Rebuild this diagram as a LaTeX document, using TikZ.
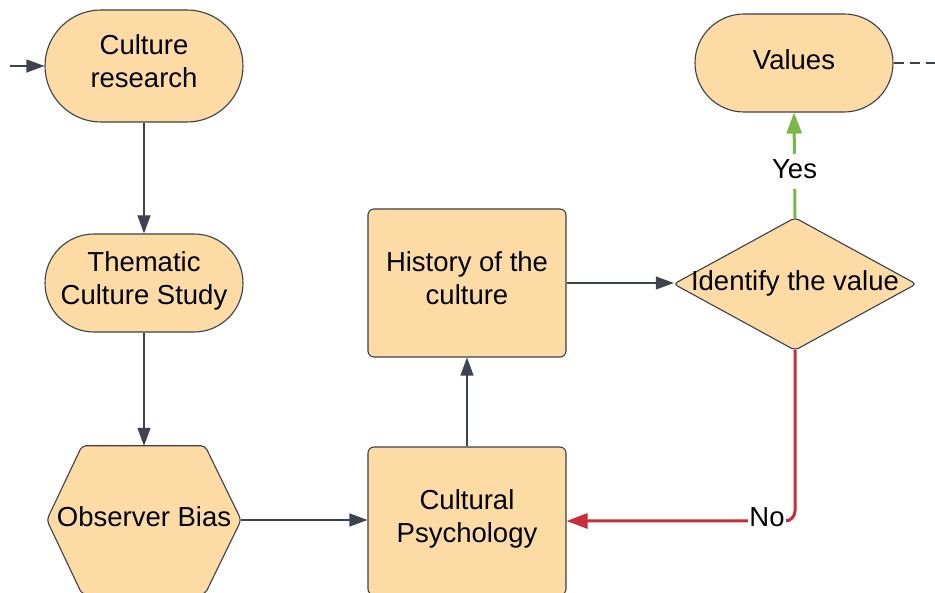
\documentclass[tikz,border=0pt]{standalone}
\usepackage{fontspec}
\setmainfont{Liberation Sans}
\usetikzlibrary{arrows.meta,shapes.misc,calc,backgrounds}
\definecolor{boxfill}{HTML}{FDDBA4}
\definecolor{boxline}{HTML}{3A414A}
\definecolor{linkgray}{HTML}{3D4450}
\definecolor{nored}{HTML}{C92D39}
\definecolor{yesgreen}{HTML}{7AB648}
\tikzset{
  x=1pt, y=-1pt,
  every node/.style={font=\fontsize{27.5}{33}\selectfont, align=center, inner sep=0pt,
    execute at begin node=\strut, execute at end node=\strut},
  terminal/.style={rounded rectangle, draw=boxline, fill=boxfill, line width=1.1pt,
    minimum width=198, minimum height=#1},
  process/.style={rectangle, rounded corners=6, draw=boxline, fill=boxfill, line width=1.1pt,
    minimum width=198, minimum height=148},
  shapeline/.style={draw=boxline, fill=boxfill, line width=1.1pt, rounded corners=4},
  link/.style={draw=linkgray, line width=1.1pt, -{Triangle[length=18,width=13]}},
  redlink/.style={draw=nored, line width=3pt, -{Triangle[length=21,width=15]}, rounded corners=10},
  greenlink/.style={draw=yesgreen, line width=3pt, -{Triangle[length=21,width=15]}},
  lbl/.style={fill=white, inner sep=1pt},
}
\begin{document}
\begin{tikzpicture}
\useasboundingbox (0,0) rectangle (935,593);

% nodes
\node[terminal=112] (cr) at (144,66) {Culture\\research};
\node[terminal=98] (tcs) at (144,283) {Thematic\\Culture Study};
\node[minimum width=194, minimum height=148] (ob) at (144,520) {Observer Bias};
\node[process] (hist) at (467,283) {History of the\\culture};
\node[process] (cp) at (467,521) {Cultural\\Psychology};
\node[minimum width=242, minimum height=132] (idv) at (795,284) {Identify the value};
\node[terminal=98] (val) at (794,63) {Values};
\coordinate (start) at (10,66);
\coordinate (tail) at (935,63);

% custom outlines drawn behind their labels
\begin{pgfonlayer}{background}
  \path[shapeline] (ob.west) -- ($(ob.north)+(-62,0)$) -- ($(ob.north)+(61,0)$) -- (ob.east)
    -- ($(ob.south)+(61,0)$) -- ($(ob.south)+(-62,0)$) -- cycle;
  \path[shapeline] (idv.north) -- (idv.east) -- (idv.south) -- (idv.west) -- cycle;
\end{pgfonlayer}

% connectors
\draw[link] (start) -- (cr.west);
\draw[link] (cr.south) -- (tcs.north);
\draw[link] (tcs.south) -- (ob.north);
\draw[link] (ob.east) -- (ob.east -| cp.west);
\draw[link] (cp.north) -- (hist.south);
\draw[link] (hist.east) -- (hist.east -| idv.west);
\draw[greenlink] (idv.north) -- node[lbl, pos=0.44] (yes) {Yes} (val.south);
\draw[redlink] (idv.south) -- (idv.south |- cp.east) -- (cp.east);
\node[lbl] (no) at (767,520) {No};
\draw[draw=boxline, line width=2pt, dash pattern=on 10pt off 6pt] (val.east) -- (tail);
\end{tikzpicture}
\end{document}
